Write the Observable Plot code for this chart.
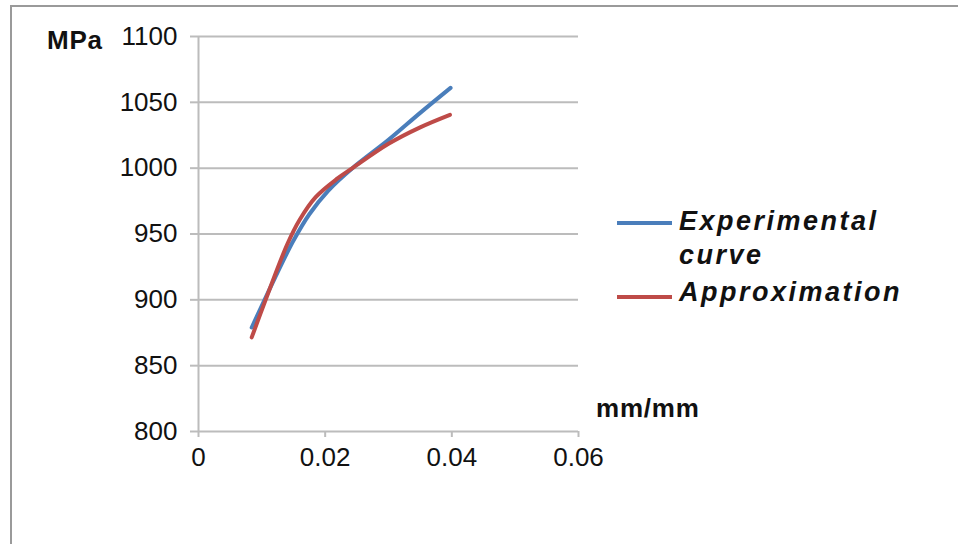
<!DOCTYPE html>
<html>
<head>
<meta charset="utf-8">
<script src="https://cdn.jsdelivr.net/npm/d3@7"></script>
<script src="https://cdn.jsdelivr.net/npm/@observablehq/plot@0.6"></script>
<style>
  html, body { margin: 0; padding: 0; background: #fff; }
  #wrap { position: relative; width: 958px; height: 544px; overflow: hidden; font-family: "Liberation Sans", Arial, sans-serif; }
  #frame { position: absolute; left: 10px; top: 5px; width: 2000px; height: 2000px; border-top: 2px solid #9a9a9a; border-left: 2px solid #9a9a9a; }
  .lbl { position: absolute; white-space: nowrap; color: #111; }
  .unit { font-weight: bold; font-size: 26px; letter-spacing: 0.8px; }
  .leg { font-weight: bold; font-style: italic; font-size: 27px; letter-spacing: 2.5px; }
  .swatch { position: absolute; height: 4px; width: 55px; }
  svg { position: absolute; left: 0; top: 0; }
</style>
</head>
<body>
<div id="wrap">
  <div id="frame"></div>
</div>
<script>
// Strain (mm/mm) and stress (MPa) – experimental curve
const expStrain = [0.0084, 0.0120, 0.0150, 0.0175, 0.0205, 0.0243, 0.0300, 0.0350, 0.0398];
const expStress = [879, 916, 945, 965, 983, 1000, 1021.5, 1042, 1061];

// Strain (mm/mm) and stress (MPa) – approximation
const apxStrain = [0.0084, 0.0106, 0.0140, 0.0160, 0.0185, 0.0219, 0.0243, 0.0300, 0.0350, 0.0397];
const apxStress = [871.5, 900, 942, 961, 978, 992, 1000, 1018.5, 1031, 1040.5];

const xTicks = [0, 0.02, 0.04, 0.06];
const xTickLabels = ["0", "0.02", "0.04", "0.06"];
const yTicks = [800, 850, 900, 950, 1000, 1050, 1100];

const seriesNames = ["Experimental curve", "Approximation"];
const seriesColors = ["#4a7ebb", "#be4b48"];

const expData = expStrain.map((x, i) => ({x, y: expStress[i], s: seriesNames[0]}));
const apxData = apxStrain.map((x, i) => ({x, y: apxStress[i], s: seriesNames[1]}));

const gridColor = "#bcbcbc";

const chart = Plot.plot({
  width: 958,
  height: 544,
  marginLeft: 198,
  marginRight: 380,
  marginTop: 36,
  marginBottom: 113,
  style: {fontFamily: "Liberation Sans, Arial, sans-serif", fontSize: "26px", color: "#111", background: "transparent"},
  x: {domain: [0, 0.06]},
  y: {domain: [800, 1100]},
  color: {domain: seriesNames, range: seriesColors},
  marks: [
    Plot.gridY(yTicks, {stroke: gridColor, strokeOpacity: 1, strokeWidth: 2}),
    Plot.axisY(yTicks, {tickSize: 8, tickPadding: 13, stroke: gridColor, strokeWidth: 2, label: null, tickFormat: d => String(d)}),
    Plot.ruleX([0], {stroke: gridColor, strokeWidth: 2}),
    Plot.axisX(xTicks, {tickSize: 6, tickPadding: 10, stroke: gridColor, strokeWidth: 2, label: null, tickFormat: (d, i) => xTickLabels[i]}),
    Plot.line(expData, {x: "x", y: "y", stroke: "s", strokeWidth: 4, curve: "catmull-rom"}),
    Plot.line(apxData, {x: "x", y: "y", stroke: "s", strokeWidth: 4, curve: "catmull-rom"})
  ]
});

const wrap = document.getElementById("wrap");
wrap.appendChild(chart);

function addLabel(text, cls, left, top) {
  const d = document.createElement("div");
  d.className = "lbl " + cls;
  d.textContent = text;
  d.style.left = left + "px";
  d.style.top = top + "px";
  wrap.appendChild(d);
  return d;
}
function addSwatch(color, left, top) {
  const d = document.createElement("div");
  d.className = "swatch";
  d.style.background = color;
  d.style.left = left + "px";
  d.style.top = top + "px";
  wrap.appendChild(d);
}

addLabel("MPa", "unit", 47, 25);
addLabel("mm/mm", "unit", 596, 393);

addSwatch(seriesColors[0], 617, 221);
addLabel("Experimental", "leg", 679, 206);
addLabel("curve", "leg", 679, 240);
addSwatch(seriesColors[1], 617, 295);
addLabel("Approximation", "leg", 679, 277);
</script>
</body>
</html>
